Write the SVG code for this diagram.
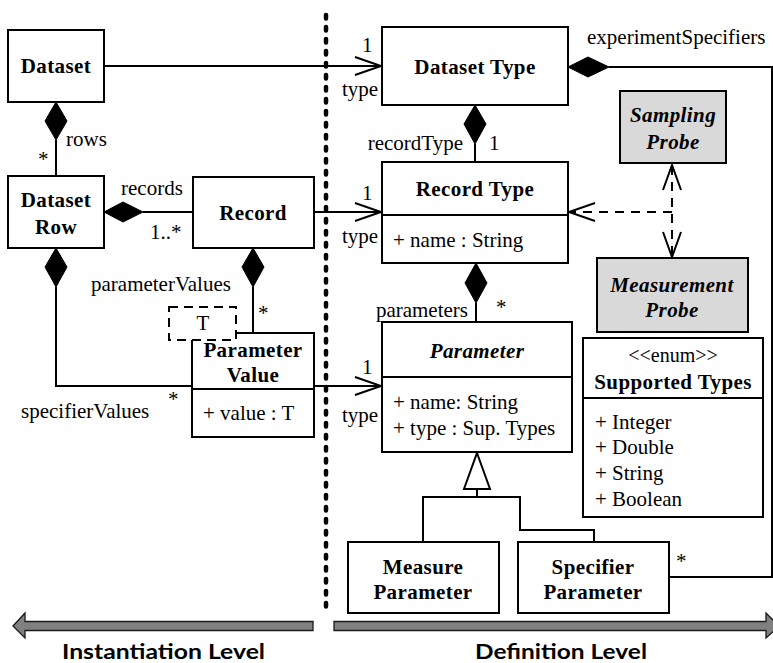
<svg xmlns="http://www.w3.org/2000/svg" width="773" height="663" viewBox="0 0 773 663">
  <style>
    .box { fill: #ffffff; stroke: #000000; stroke-width: 2; }
    .probe { fill: #d9d9d9; stroke: #000000; stroke-width: 2; }
    .line { fill: none; stroke: #000000; stroke-width: 2; }
    .dash { fill: none; stroke: #000000; stroke-width: 2; stroke-dasharray: 9 7; }
    .head { fill: none; stroke: #000000; stroke-width: 2; }
    .diamond { fill: #000000; stroke: #000000; stroke-width: 1; }
    .tri { fill: #ffffff; stroke: #000000; stroke-width: 2; }
    .t { font-family: "Liberation Serif", "Times New Roman", serif; font-size: 21px; fill: #000000; }
    .b { font-weight: bold; text-anchor: middle; letter-spacing: 0.4px; }
    .bi { font-weight: bold; font-style: italic; text-anchor: middle; letter-spacing: 0.4px; }
    .c { text-anchor: middle; }
    .e { text-anchor: end; }
    .lvl { font-family: Lato, "Liberation Sans", sans-serif; font-size: 21px; font-weight: bold; fill: #000000; }
    .band { fill: #808080; stroke: #1a1a1a; stroke-width: 1.3; }
  </style>

  <!-- level divider -->
  <line x1="326" y1="15" x2="326" y2="613" stroke="#000" stroke-width="4.5" stroke-linecap="round" stroke-dasharray="3.5 8.5"/>

  <!-- connectors -->
  <g id="connectors">
    <!-- Dataset -> Dataset Type -->
    <line class="line" x1="104" y1="66" x2="381" y2="66"/>
    <polyline class="head" points="355,57 381,66 355,75"/>
    <!-- Dataset <>- Dataset Row -->
    <polygon class="diamond" points="56,102 67,121 56,140 45,121"/>
    <line class="line" x1="56" y1="140" x2="56" y2="176"/>
    <!-- Dataset Row <>- Record -->
    <polygon class="diamond" points="104,212 123,202 143,212 123,222"/>
    <line class="line" x1="143" y1="212" x2="193" y2="212"/>
    <!-- Record -> Record Type -->
    <line class="line" x1="314" y1="212" x2="381" y2="212"/>
    <polyline class="head" points="355,203 381,212 355,221"/>
    <!-- Record <>- Parameter Value -->
    <polygon class="diamond" points="253,248 264,267 253,287 242,267"/>
    <line class="line" x1="253" y1="287" x2="253" y2="333"/>
    <!-- Dataset Row <>- Parameter Value -->
    <polygon class="diamond" points="56,248 67,267 56,287 45,267"/>
    <polyline class="line" points="56,287 56,386 192,386"/>
    <!-- Parameter Value -> Parameter -->
    <line class="line" x1="314" y1="386" x2="381" y2="386"/>
    <polyline class="head" points="355,377 381,386 355,395"/>
    <!-- Dataset Type <>- Record Type -->
    <polygon class="diamond" points="475,105 486,124 475,144 464,124"/>
    <line class="line" x1="475" y1="144" x2="475" y2="162"/>
    <!-- Record Type <>- Parameter -->
    <polygon class="diamond" points="476,263 487,283 476,303 465,283"/>
    <line class="line" x1="476" y1="303" x2="476" y2="322"/>
    <!-- Dataset Type <>- Specifier Parameter -->
    <polygon class="diamond" points="568,67 588,57 609,67 588,77"/>
    <polyline class="line" points="609,67 772,67 772,577 669,577"/>
    <!-- probes depend on Record Type -->
    <line class="dash" x1="672" y1="212" x2="570" y2="212"/>
    <line class="dash" x1="672" y1="166" x2="672" y2="256"/>
    <polyline class="head" points="595,203 569,212 595,221"/>
    <polyline class="head" points="663,190 672,165 681,190"/>
    <polyline class="head" points="663,232 672,257 681,232"/>
    <!-- generalization -->
    <polygon class="tri" points="477,453 490,489 464,489"/>
    <line class="line" x1="477" y1="489" x2="477" y2="497"/>
    <polyline class="line" points="423,542 423,497 520,497 520,530 594,530 594,542"/>
  </g>

  <!-- instantiation level -->
  <g id="dataset">
    <rect class="box" x="8" y="30" width="96" height="72"/>
    <text class="t b" x="56" y="73">Dataset</text>
  </g>
  <g id="dataset-row">
    <rect class="box" x="8" y="176" width="96" height="72"/>
    <text class="t b" x="56" y="207">Dataset</text>
    <text class="t b" x="56" y="234">Row</text>
  </g>
  <g id="record">
    <rect class="box" x="193" y="177" width="121" height="71"/>
    <text class="t b" x="253" y="220">Record</text>
  </g>
  <g id="parameter-value">
    <rect class="box" x="192" y="333" width="122" height="104"/>
    <line class="line" x1="192" y1="389" x2="314" y2="389"/>
    <text class="t b" x="253" y="357">Parameter</text>
    <text class="t b" x="253" y="382">Value</text>
    <text class="t" x="203" y="420">+ value : T</text>
    <rect x="169" y="307" width="67" height="33" fill="#fff" stroke="#000" stroke-width="2" stroke-dasharray="9 6"/>
    <text class="t c" x="203" y="330">T</text>
  </g>

  <!-- definition level -->
  <g id="dataset-type">
    <rect class="box" x="382" y="27" width="186" height="78"/>
    <text class="t b" x="475" y="74">Dataset Type</text>
  </g>
  <g id="record-type">
    <rect class="box" x="382" y="162" width="186" height="101"/>
    <line class="line" x1="382" y1="215" x2="568" y2="215"/>
    <text class="t b" x="475" y="196">Record Type</text>
    <text class="t" x="393" y="247">+ name : String</text>
  </g>
  <g id="parameter">
    <rect class="box" x="382" y="322" width="190" height="130"/>
    <line class="line" x1="382" y1="377" x2="572" y2="377"/>
    <text class="t bi" x="477" y="358">Parameter</text>
    <text class="t" x="393" y="409">+ name: String</text>
    <text class="t" x="393" y="435">+ type : Sup. Types</text>
  </g>
  <g id="sampling-probe">
    <rect class="probe" x="620" y="91" width="106" height="72"/>
    <text class="t bi" x="673" y="122">Sampling</text>
    <text class="t bi" x="673" y="149">Probe</text>
  </g>
  <g id="measurement-probe">
    <rect class="probe" x="597" y="258" width="151" height="74"/>
    <text class="t bi" x="672" y="292">Measurement</text>
    <text class="t bi" x="672" y="317">Probe</text>
  </g>
  <g id="supported-types">
    <rect class="box" x="583" y="338" width="180" height="179"/>
    <line class="line" x1="583" y1="398" x2="763" y2="398"/>
    <text class="t c" x="673" y="362" style="font-size:20px">&lt;&lt;enum&gt;&gt;</text>
    <text class="t b" x="673" y="389">Supported Types</text>
    <text class="t" x="595" y="429">+ Integer</text>
    <text class="t" x="595" y="454">+ Double</text>
    <text class="t" x="595" y="480">+ String</text>
    <text class="t" x="595" y="506">+ Boolean</text>
  </g>
  <g id="measure-parameter">
    <rect class="box" x="348" y="542" width="151" height="71"/>
    <text class="t b" x="423" y="574">Measure</text>
    <text class="t b" x="423" y="599">Parameter</text>
  </g>
  <g id="specifier-parameter">
    <rect class="box" x="518" y="542" width="151" height="71"/>
    <text class="t b" x="593" y="574">Specifier</text>
    <text class="t b" x="593" y="599">Parameter</text>
  </g>

  <!-- role names and multiplicities -->
  <g id="labels">
    <text class="t" x="362" y="52">1</text>
    <text class="t" x="342" y="96">type</text>
    <text class="t" x="66" y="146">rows</text>
    <text class="t" x="38" y="166">*</text>
    <text class="t" x="121" y="195">records</text>
    <text class="t" x="150" y="239">1..*</text>
    <text class="t" x="362" y="200">1</text>
    <text class="t" x="342" y="243">type</text>
    <text class="t" x="91" y="291">parameterValues</text>
    <text class="t" x="258" y="320">*</text>
    <text class="t" x="21" y="418">specifierValues</text>
    <text class="t" x="168" y="406">*</text>
    <text class="t" x="362" y="374">1</text>
    <text class="t" x="342" y="422">type</text>
    <text class="t" x="587" y="44">experimentSpecifiers</text>
    <text class="t e" x="463" y="150">recordType</text>
    <text class="t" x="489" y="150">1</text>
    <text class="t e" x="468" y="317">parameters</text>
    <text class="t" x="496" y="314">*</text>
    <text class="t" x="676" y="568">*</text>
  </g>

  <!-- level bands -->
  <g id="instantiation-level">
    <polygon class="band" points="13,626 25,613 25,621.5 313,621.5 313,630.5 25,630.5 25,638"/>
    <text class="lvl" x="62" y="659" textLength="203" lengthAdjust="spacingAndGlyphs">Instantiation Level</text>
  </g>
  <g id="definition-level">
    <polygon class="band" points="334,621.5 766,621.5 766,613 779,626 766,638 766,630.5 334,630.5"/>
    <text class="lvl" x="475" y="659" textLength="172" lengthAdjust="spacingAndGlyphs">Definition Level</text>
  </g>
</svg>
